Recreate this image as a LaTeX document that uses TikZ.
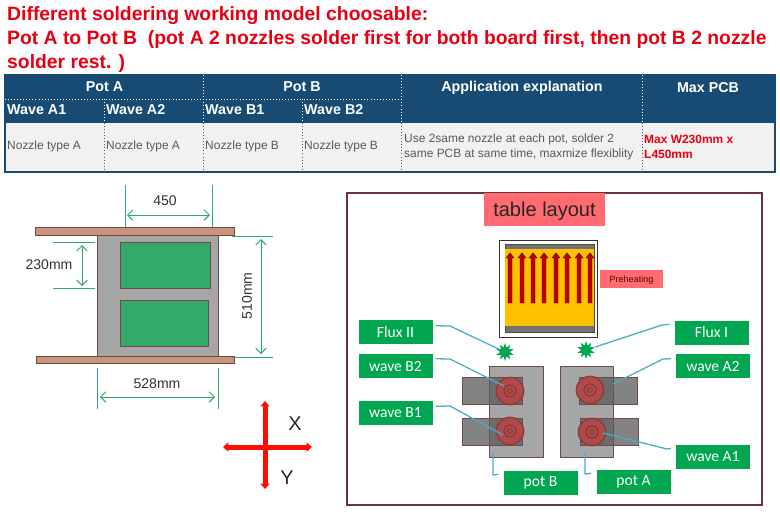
\documentclass[tikz,border=0pt]{standalone}
\usepackage{fontspec}
\setmainfont{Liberation Sans}
\newfontfamily\calfont{Carlito}
\usetikzlibrary{arrows.meta,shapes.geometric}
\definecolor{titlered}{HTML}{E60012}
\definecolor{tablehead}{HTML}{174B73}
\definecolor{tablerow}{HTML}{F1F1F1}
\definecolor{rowtext}{HTML}{595959}
\definecolor{dimgreen}{HTML}{2FA86C}
\definecolor{pcbgreen}{HTML}{33A96A}
\definecolor{railbrown}{HTML}{C9937C}
\definecolor{edgebrown}{HTML}{6E4A48}
\definecolor{framered}{HTML}{6B3038}
\definecolor{salmon}{HTML}{FF6B70}
\definecolor{labelgreen}{HTML}{00A650}
\definecolor{leadblue}{HTML}{4BACC6}
\definecolor{nozzlered}{HTML}{B04A48}
\definecolor{heatyellow}{HTML}{FFC000}
\tikzset{
  titleline/.style={anchor=base west,inner sep=0pt,text=titlered,font=\bfseries\fontsize{16.5}{19}\selectfont},
  headtext/.style={inner sep=0pt,text=white,font=\bfseries\fontsize{12.2}{14}\selectfont},
  rowlabel/.style={anchor=west,inner sep=0pt,text=rowtext,font=\fontsize{10.2}{12.8}\selectfont},
  dimtext/.style={inner sep=0pt,text=black!80,font=\fontsize{12}{14}\selectfont},
  dimline/.style={dimgreen,line width=0.8pt},
  dimarrow/.style={dimline,{Straight Barb[length=4.5pt,width=9pt]}-{Straight Barb[length=4.5pt,width=9pt]}},
  greenlabel/.style={fill=labelgreen,text=white,inner sep=0pt,minimum width=22.2mm,minimum height=7.2mm,font=\calfont\fontsize{13.3}{15}\selectfont},
  leader/.style={leadblue,line width=1.1pt},
  nozzle/.style={circle,draw=nozzlered!80!black,line width=1.2pt,fill=nozzlered,inner sep=0pt,minimum size=8.2mm},
  fluxstar/.style={star,star points=10,star point ratio=1.9,fill=labelgreen,inner sep=0pt,minimum size=5.4mm},
  potbody/.style={fill=black!35,draw=edgebrown,line width=0.5pt},
  wavebox/.style={fill=black!65,fill opacity=0.75,draw=edgebrown,line width=0.5pt},
}
\begin{document}
\begin{tikzpicture}[x=0.3mm,y=-0.3mm,>=stealth]
  \useasboundingbox (0,0) rectangle (780,515);

  % Title
  \node[titleline] (line1) at (7,21) {Different soldering working model choosable:};
  \node[titleline] (line2) at (7,44) {Pot A to Pot B\ \ (pot A 2 nozzles solder first for both board first, then pot B 2 nozzle};
  \node[titleline] (line3) at (7,68) {solder rest. )};

  % Table
  \fill[tablehead] (5,75) rectangle (775,123);
  \fill[tablerow] (5,123) rectangle (775,172);
  \draw[tablehead,line width=1.2pt] (5,75) rectangle (775,172);
  \draw[white,dotted,line width=0.6pt] (5,99) -- (401,99);
  \foreach \x in {203,401,642}
    \draw[white,dotted,line width=0.6pt] (\x,75) -- (\x,123);
  \foreach \x in {104,302}
    \draw[white,dotted,line width=0.6pt] (\x,99) -- (\x,123);
  \foreach \x in {104,203,302,401,642}
    \draw[rowtext,dotted,line width=0.6pt] (\x,123) -- (\x,173);

  \node[headtext] (potAhead) at (104.5,87) {Pot A};
  \node[headtext] (potBhead) at (302,87) {Pot B};
  \node[headtext] (apphead) at (522,87.5) {Application explanation};
  \node[headtext] (maxhead) at (708,87.5) {Max PCB};
  \node[headtext,anchor=west] (waveA1head) at (7,110) {Wave A1};
  \node[headtext,anchor=west] (waveA2head) at (106,110) {Wave A2};
  \node[headtext,anchor=west] (waveB1head) at (205,110) {Wave B1};
  \node[headtext,anchor=west] (waveB2head) at (304,110) {Wave B2};

  \node[rowlabel] (typeA1) at (7,146.5) {Nozzle type A};
  \node[rowlabel] (typeA2) at (106,146.5) {Nozzle type A};
  \node[rowlabel] (typeB1) at (205,146.5) {Nozzle type B};
  \node[rowlabel] (typeB2) at (304,146.5) {Nozzle type B};
  \node[rowlabel] (appline1) at (404,139) {Use 2same nozzle at each pot, solder 2};
  \node[rowlabel] (appline2) at (404,154) {same PCB at same time, maxmize flexiblity};
  \node[rowlabel,text=titlered,font=\bfseries\fontsize{10.2}{12.8}\selectfont] (maxline1) at (644,139) {Max W230mm x};
  \node[rowlabel,text=titlered,font=\bfseries\fontsize{10.2}{12.8}\selectfont] (maxline2) at (644,154) {L450mm};

  % Rails and boards
  \filldraw[fill=railbrown,draw=edgebrown,line width=0.5pt] (35,227) rectangle (234,235);
  \filldraw[fill=railbrown,draw=edgebrown,line width=0.5pt] (36,356) rectangle (234,363);
  \filldraw[fill=black!35,draw=edgebrown,line width=0.6pt] (97,235) rectangle (218,356);
  \filldraw[fill=pcbgreen,draw=edgebrown,line width=0.6pt] (120,242) rectangle (210,288);
  \filldraw[fill=pcbgreen,draw=edgebrown,line width=0.6pt] (120,300) rectangle (208,346);

  % Dimensions
  \draw[dimline] (125,185) -- (125,227);
  \draw[dimline] (212,185) -- (212,227);
  \draw[dimarrow] (127,215) -- (210,215);
  \node[dimtext] (dimtop) at (165,201) {450};
  \draw[dimline] (53,242) -- (95,242);
  \draw[dimline] (53,288) -- (95,288);
  \draw[dimarrow] (82,245) -- (82,286);
  \node[dimtext] (dimpcb) at (49,265) {230mm};
  \draw[dimline] (232,236) -- (273,236);
  \draw[dimline] (232,357) -- (273,357);
  \draw[dimarrow] (261,239) -- (261,354);
  \node[dimtext,rotate=90] (dimrail) at (247,296) {510mm};
  \draw[dimline] (97,368) -- (97,409);
  \draw[dimline] (218,368) -- (218,409);
  \draw[dimarrow] (100,397) -- (215,397);
  \node[dimtext] (dimwidth) at (157,384) {528mm};

  % Axes
  \draw[red!90!orange,line width=1.5mm,{Triangle[length=1.6mm,width=2.7mm]}-{Triangle[length=1.6mm,width=2.7mm]}] (223,447) -- (312,447);
  \draw[red!90!orange,line width=1.5mm,{Triangle[length=1.6mm,width=2.7mm]}-{Triangle[length=1.6mm,width=2.7mm]}] (265,401) -- (265,489);
  \node[inner sep=0pt,text=black!85,font=\fontsize{17}{20}\selectfont] (axisX) at (295,424) {X};
  \node[inner sep=0pt,text=black!85,font=\fontsize{17}{20}\selectfont] (axisY) at (287,478) {Y};

  % Panel
  \draw[framered,line width=1.6pt] (347,193) rectangle (762,505);
  \node[fill=salmon,inner sep=0pt,text depth=0pt,minimum width=36.3mm,minimum height=9.9mm,text=black!85,font=\fontsize{17.1}{20}\selectfont] (tablelayout) at (544.5,209.5) {table layout};

  % Preheating
  \filldraw[fill=white,draw=black!80,line width=0.7pt] (499,240) rectangle (597,337);
  \filldraw[fill=black!55,draw=black!70,line width=0.4pt] (505,244) rectangle (594,332);
  \fill[heatyellow] (505,249) rectangle (594,326);
  \foreach \x in {510,522,533,544,556,567,579,590}
    \filldraw[fill=red!75!black,draw=red!35!black,line width=0.4pt]
      (\x-2,303) -- (\x-2,258) -- (\x-4,258) -- (\x,253) -- (\x+4,258) -- (\x+2,258) -- (\x+2,303) -- cycle;
  \node[fill=salmon,inner sep=0pt,text depth=0pt,minimum width=18.9mm,minimum height=5.4mm,text=red!35!black,font=\fontsize{7.7}{9}\selectfont] (preheating) at (631.5,279) {Preheating};

  % Pots
  \filldraw[potbody] (489,366) rectangle (543,457);
  \filldraw[potbody] (560,366) rectangle (613,457);
  \filldraw[wavebox] (462,377) rectangle (522,404);
  \filldraw[wavebox] (462,418) rectangle (522,445);
  \filldraw[wavebox] (579,377) rectangle (637,404);
  \filldraw[wavebox] (580,418) rectangle (638,445);

  \node[nozzle] (nozzleB2) at (510,391) {};
  \node[nozzle] (nozzleB1) at (510,431) {};
  \node[nozzle] (nozzleA2) at (590,390) {};
  \node[nozzle] (nozzleA1) at (592,432) {};
  \foreach \n in {nozzleB2,nozzleB1,nozzleA2,nozzleA1} {
    \draw[nozzlered!75!black,line width=0.9pt] (\n) circle (6);
    \draw[nozzlered!75!black,line width=0.7pt] (\n) circle (2.5);
  }
  \node[fluxstar] (starII) at (505,352) {};
  \node[fluxstar] (starI) at (586,350) {};

  % Labels
  \node[greenlabel] (fluxII) at (395.5,332) {Flux II};
  \node[greenlabel] (waveB2) at (395.5,366) {wave B2};
  \node[greenlabel] (waveB1) at (395.5,412.5) {wave B1};
  \node[greenlabel] (potB) at (540.5,482.5) {pot B};
  \node[greenlabel] (potA) at (633.5,481.5) {pot A};
  \node[greenlabel] (fluxI) at (711.5,332.5) {Flux I};
  \node[greenlabel] (waveA2) at (713,366) {wave A2};
  \node[greenlabel] (waveA1) at (713,456.5) {wave A1};

  % Leaders
  \coordinate (bodyB) at (493,452);
  \coordinate (bodyA) at (585,452);
  \coordinate (boxA2) at (613,384);
  \draw[leader] ([shift={(3,6)}]fluxII.north east) -- (450,326) -- (starII);
  \draw[leader] ([shift={(3,5)}]waveB2.north east) -- (450,359) -- ([shift={(-6,-5)}]nozzleB2.center);
  \draw[leader] ([shift={(3,6)}]waveB1.north east) -- (450,406) -- ([shift={(-7,4)}]nozzleB1.center);
  \draw[leader] (bodyB) -- (493,475) -- ([shift={(-5,4)}]potB.north west);
  \draw[leader] (bodyA) -- (585,474) -- ([shift={(-5,4)}]potA.north west);
  \draw[leader] ([shift={(-5,4)}]fluxI.north west) -- (662,325) -- (starI);
  \draw[leader] ([shift={(-5,5)}]waveA2.north west) -- (663,359) -- (boxA2);
  \draw[leader] ([shift={(-5,4)}]waveA1.north west) -- (667,449) -- ([shift={(11,1)}]nozzleA1.center);
\end{tikzpicture}
\end{document}
